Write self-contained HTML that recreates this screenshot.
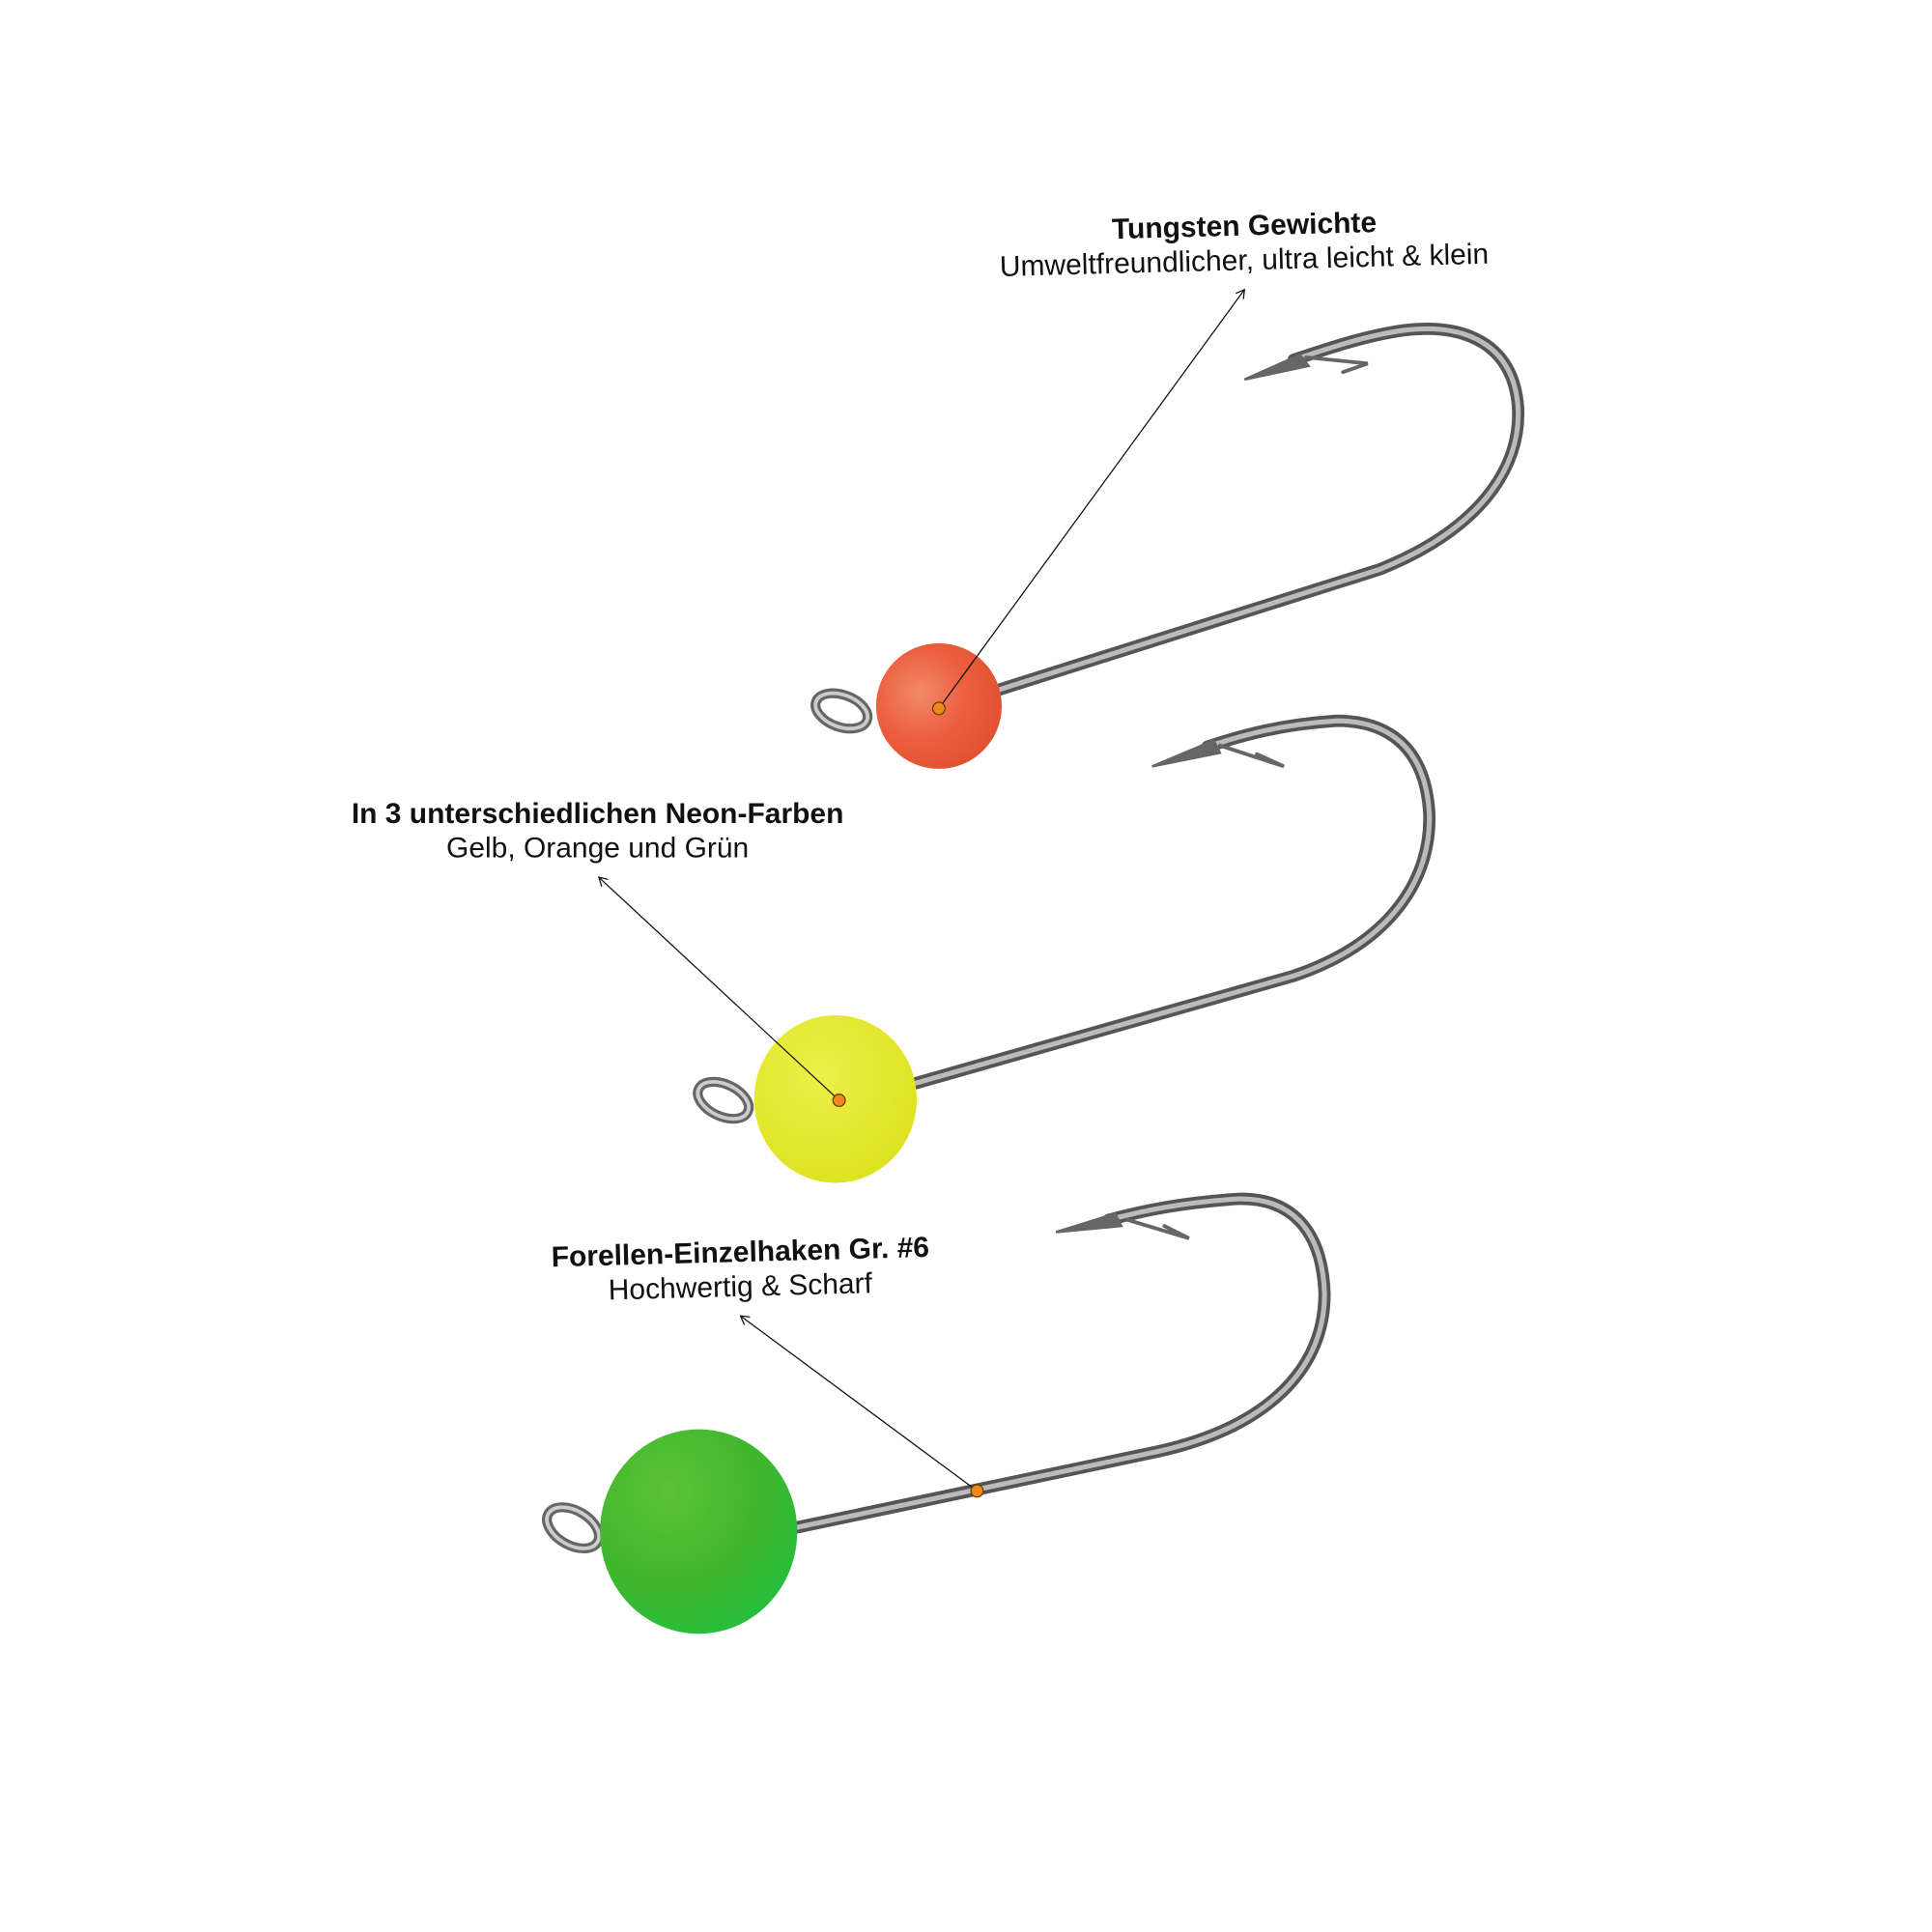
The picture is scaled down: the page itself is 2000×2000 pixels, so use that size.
<!DOCTYPE html>
<html><head><meta charset="utf-8"><style>
html,body{margin:0;padding:0;background:#fff;}
svg{display:block;}
</style></head><body>
<svg width="2000" height="2000" viewBox="0 0 1568 1568" xmlns="http://www.w3.org/2000/svg">
<defs>
<radialGradient id="gOr" cx="0.35" cy="0.4" r="0.7"><stop offset="0" stop-color="#f28a6a"/><stop offset="0.5" stop-color="#ec6040"/><stop offset="1" stop-color="#e0502e"/></radialGradient>
<radialGradient id="gYe" cx="0.4" cy="0.35" r="0.7"><stop offset="0" stop-color="#eef04a"/><stop offset="1" stop-color="#dde21e"/></radialGradient>
<radialGradient id="gGr" cx="0.35" cy="0.3" r="0.8"><stop offset="0" stop-color="#5cc23a"/><stop offset="0.6" stop-color="#3fb62c"/><stop offset="1" stop-color="#22c040"/></radialGradient>
<marker id="ah" markerWidth="8" markerHeight="8" refX="7" refY="4" orient="auto" markerUnits="userSpaceOnUse"><path d="M0,0 L7,4 L0,8" fill="none" stroke="#111" stroke-width="1"/></marker>
</defs>
<g fill="none" stroke-linecap="round">
<!-- hook 1 -->
<path d="M810,560 L1120,462 C1200,430 1235,380 1232,330 C1228,280 1190,262 1140,268 C1110,272 1080,282 1050,292" stroke="#555" stroke-width="10"/>
<path d="M810,560 L1120,462 C1200,430 1235,380 1232,330 C1228,280 1190,262 1140,268 C1110,272 1080,282 1050,292" stroke="#bbb" stroke-width="4"/>
<path d="M1055,288 L1010,308 L1062,297 Z" fill="#666" stroke="#666" stroke-width="2"/>
<path d="M1060,290 L1110,295 L1090,302" stroke="#666" stroke-width="3"/>
<ellipse cx="683" cy="577" rx="22" ry="13" transform="rotate(20 683 577)" stroke="#666" stroke-width="8"/>
<ellipse cx="683" cy="577" rx="22" ry="13" transform="rotate(20 683 577)" stroke="#ccc" stroke-width="3"/>
<!-- hook 2 -->
<path d="M740,880 L1050,792 C1130,765 1162,712 1160,660 C1157,610 1130,585 1085,585 C1040,588 1010,596 980,606" stroke="#555" stroke-width="10"/>
<path d="M740,880 L1050,792 C1130,765 1162,712 1160,660 C1157,610 1130,585 1085,585 C1040,588 1010,596 980,606" stroke="#bbb" stroke-width="4"/>
<path d="M985,601 L935,622 L990,611 Z" fill="#666" stroke="#666" stroke-width="2"/>
<path d="M990,605 L1042,622 L1020,612" stroke="#666" stroke-width="3"/>
<ellipse cx="587" cy="893" rx="22" ry="13" transform="rotate(25 587 893)" stroke="#666" stroke-width="8"/>
<ellipse cx="587" cy="893" rx="22" ry="13" transform="rotate(25 587 893)" stroke="#ccc" stroke-width="3"/>
<!-- hook 3 -->
<path d="M645,1240 L940,1178 C1030,1158 1075,1110 1075,1050 C1073,995 1045,972 1005,973 C960,976 930,982 900,990" stroke="#555" stroke-width="10"/>
<path d="M645,1240 L940,1178 C1030,1158 1075,1110 1075,1050 C1073,995 1045,972 1005,973 C960,976 930,982 900,990" stroke="#bbb" stroke-width="4"/>
<path d="M905,985 L857,1000 L910,995 Z" fill="#666" stroke="#666" stroke-width="2"/>
<path d="M915,990 L965,1005 L945,995" stroke="#666" stroke-width="3"/>
<ellipse cx="465" cy="1240" rx="23" ry="14" transform="rotate(30 465 1240)" stroke="#666" stroke-width="8"/>
<ellipse cx="465" cy="1240" rx="23" ry="14" transform="rotate(30 465 1240)" stroke="#ccc" stroke-width="3"/>
</g>
<circle cx="762" cy="573" r="51" fill="url(#gOr)"/>
<ellipse cx="678" cy="892" rx="66" ry="68" fill="url(#gYe)"/>
<ellipse cx="567" cy="1243" rx="80" ry="83" fill="url(#gGr)"/>
<g stroke="#111" stroke-width="1" fill="none">
<line x1="762" y1="575" x2="1010" y2="235" marker-end="url(#ah)"/>
<line x1="681" y1="893" x2="486" y2="712" marker-end="url(#ah)"/>
<line x1="793" y1="1210" x2="601" y2="1068" marker-end="url(#ah)"/>
</g>
<g fill="#f08a1c" stroke="#6a3a00" stroke-width="1">
<circle cx="762" cy="575" r="5"/><circle cx="681" cy="893" r="5"/><circle cx="793" cy="1210" r="5"/>
</g>
<g font-family="Liberation Sans, Arial, sans-serif" text-anchor="middle" fill="#111">
<text x="1010" y="191" font-size="23.5" font-weight="bold" transform="rotate(-1.5 1010 191)">Tungsten Gewichte</text>
<text x="1010" y="219" font-size="23.5" transform="rotate(-1.5 1010 219)">Umweltfreundlicher, ultra leicht &amp; klein</text>
<text x="485" y="668" font-size="23.5" font-weight="bold">In 3 unterschiedlichen Neon-Farben</text>
<text x="485" y="696" font-size="23.5">Gelb, Orange und Grün</text>
<text x="601" y="1024" font-size="23.5" font-weight="bold" transform="rotate(-1.5 601 1024)">Forellen-Einzelhaken Gr. #6</text>
<text x="601" y="1052" font-size="23.5" transform="rotate(-1.5 601 1052)">Hochwertig &amp; Scharf</text>
</g>
</svg>
</body></html>
